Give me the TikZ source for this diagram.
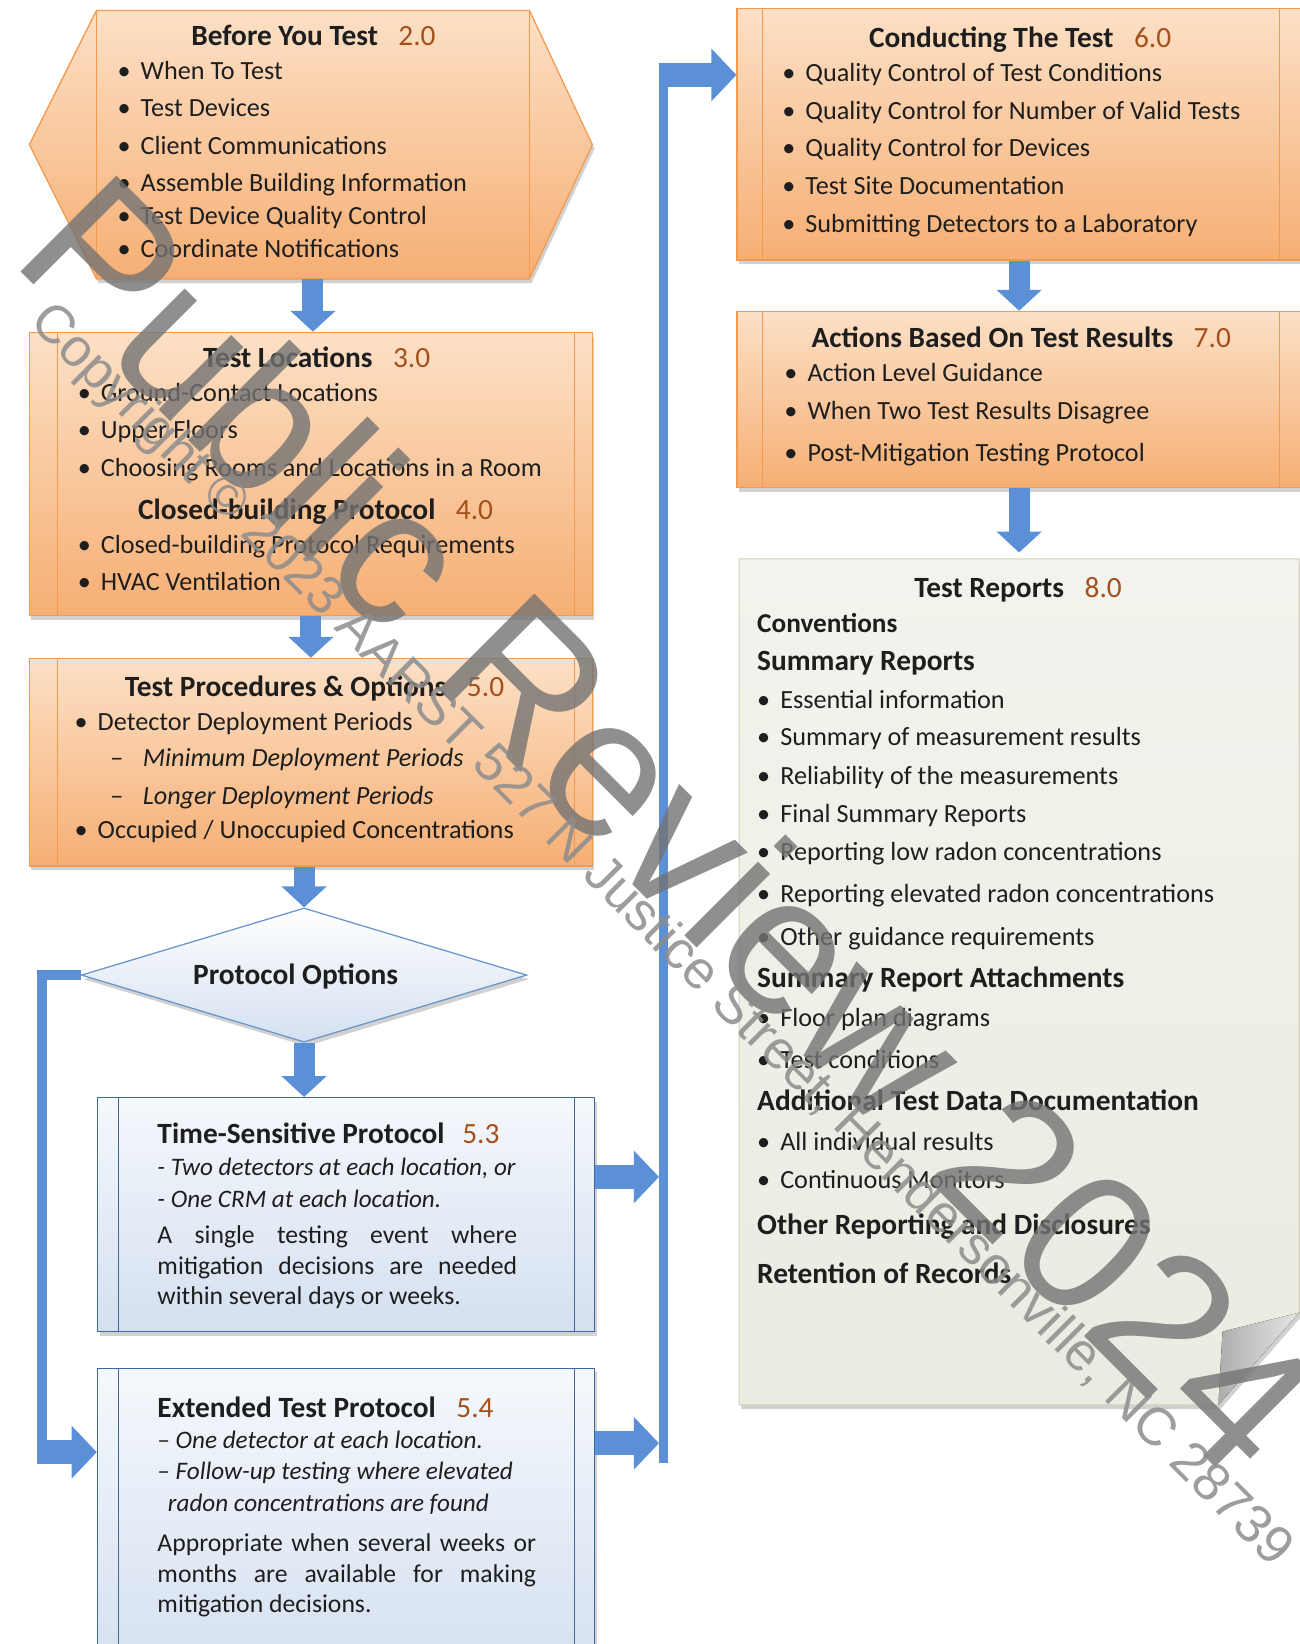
\documentclass[tikz,border=0pt]{standalone}
\usepackage{fontspec}
\setmainfont{Carlito}
\newfontfamily\wmfont{Liberation Sans}
\usetikzlibrary{shapes.geometric,arrows.meta,shadows,calc}

\definecolor{peachlt}{HTML}{FCE0C6}
\definecolor{peachdk}{HTML}{F6AF74}
\definecolor{orangeline}{HTML}{F39A4E}
\definecolor{paletop}{HTML}{F5F8FC}
\definecolor{paleblue}{HTML}{D4E0F0}
\definecolor{boxblue}{HTML}{41679F}
\definecolor{diamline}{HTML}{6A95CB}
\definecolor{blockblue}{HTML}{5B8FD6}
\definecolor{reporttop}{HTML}{F3F2EC}
\definecolor{reportbot}{HTML}{ECEBE2}
\definecolor{reportline}{HTML}{D2D0BC}
\definecolor{secno}{HTML}{A3511C}
\definecolor{txt}{HTML}{1E1E1E}

\newcommand{\secno}[1]{{\mdseries\color{secno}#1}}
\newcommand{\bulmark}{\makebox[22pt][l]{\textbullet}}
\newcommand{\dashmark}{\makebox[31pt][l]{–}}

\tikzset{
  hold/.style={inner sep=0pt, outer sep=0pt},
  softshadow/.style={drop shadow={shadow xshift=2pt, shadow yshift=-4pt, opacity=0.3, fill=black!60}},
  orangebox/.style={draw=orangeline, line width=1.2pt, top color=peachlt, bottom color=peachdk, softshadow},
  bluebox/.style={draw=boxblue, line width=1.4pt, top color=paletop, bottom color=paleblue, softshadow},
  reportbox/.style={draw=reportline, line width=1pt, top color=reporttop, bottom color=reportbot, softshadow},
  sides/.style n args={3}{path picture={
      \draw[#3, line width=1pt] ([xshift=#1]path picture bounding box.north west) -- ([xshift=#1]path picture bounding box.south west);
      \draw[#3, line width=1pt] ([xshift=-#2]path picture bounding box.north east) -- ([xshift=-#2]path picture bounding box.south east);}},
  downarrow/.style={blockblue, line width=20pt, -{Triangle[width=42pt,length=20pt]}},
  sidearrow/.style={blockblue, line width=23pt, -{Triangle[width=49pt,length=24pt]}},
  pipe/.style={blockblue, line width=9pt, line join=miter},
  ttl/.style={inner sep=0pt, text height=19pt, text depth=0pt, font=\fontsize{28}{32}\selectfont\bfseries, text=txt},
  itm/.style={anchor=west, inner sep=0pt, text height=17pt, text depth=0pt, font=\fontsize{25}{29}\selectfont, text=txt},
  itl/.style={itm, font=\fontsize{24}{29}\selectfont\itshape},
  hdr/.style={itm, font=\fontsize{28}{32}\selectfont\bfseries},
  para/.style={anchor=north west, inner sep=0pt, align=justify, font=\fontsize{24.5}{29}\selectfont, text=txt},
  wmbig/.style={rotate=-45, inner sep=0pt, font=\wmfont\fontsize{188}{190}\selectfont, text=black!55, text opacity=0.8},
  wmline/.style={rotate=-45, inner sep=0pt, font=\wmfont\fontsize{51}{55}\selectfont, text=black!45, text opacity=0.85}
}

\begin{document}
\begin{tikzpicture}[x=1pt,y=-1pt]
    \useasboundingbox (0,0) rectangle (1239,1568);
    % The boxes of the left column.
        \node[hold, minimum width=413pt, minimum height=256pt] (before) at (298.5,138) {};
        \draw[orangebox] (before.north west) -- (before.north east) -- ($(before.east)+(60,0)$) -- (before.south east) -- (before.south west) -- ($(before.west)+(-64,0)$) -- cycle;
        \draw[orangeline, line width=1pt] (before.north west) -- (before.south west) (before.north east) -- (before.south east);
        \node[orangebox, sides={27pt}{17pt}{orangeline}, minimum width=537pt, minimum height=270pt] (loc) at (296.5,452) {};
        \node[orangebox, sides={27pt}{17pt}{orangeline}, minimum width=537pt, minimum height=198pt] (proc) at (296.5,727) {};
        \node[diamond, draw=diamline, line width=1.2pt, top color=white, bottom color=paleblue, softshadow, minimum width=425pt, minimum height=128pt, inner sep=0pt] (opt) at (290,930) {};
        \node[bluebox, sides={20pt}{19pt}{boxblue}, minimum width=474pt, minimum height=223pt] (ts) at (330,1158.5) {};
        \node[bluebox, sides={20pt}{19pt}{boxblue}, minimum width=474pt, minimum height=295pt] (ext) at (330,1452.5) {};
    % The boxes of the right column.
        \node[orangebox, sides={24pt}{21pt}{orangeline}, minimum width=538pt, minimum height=240pt] (cond) at (972,128) {};
        \node[orangebox, sides={24pt}{21pt}{orangeline}, minimum width=538pt, minimum height=168pt] (act) at (972,381) {};
        \node[hold, minimum width=534pt, minimum height=807pt] (rep) at (972,936.5) {};
        \draw[reportbox] (rep.north west) -- (rep.north east) -- ($(rep.south east)+(0,-88)$) -- ($(rep.south east)+(-77,0)$) -- (rep.south west) -- cycle;
        % This draws the curled corner.
            \fill[left color=black!32, right color=black!10] ($(rep.south east)+(0,-88)$) -- ($(rep.south east)+(-73,-70)$) -- ($(rep.south east)+(-77,0)$) -- cycle;
    % Below are the arrows.
        \draw[downarrow] (before.south) -- (before.south |- loc.north);
        \draw[downarrow] (loc.south) -- (proc.north);
        \draw[downarrow] (proc.south -| opt.north) -- (opt.north);
        \draw[downarrow] (opt.south) -- (opt.south |- ts.north);
        \draw[downarrow] (cond.south) -- (act.north);
        \draw[downarrow, shorten >=6pt] (act.south) -- (act.south |- rep.north);
        \coordinate (lbend) at (40,1385);
        \draw[pipe] (opt.west) -| (lbend);
        \draw[sidearrow] ([xshift=-4.5pt]lbend) -- (lbend -| ext.west);
        \coordinate (rbot) at (633,1395);
        \coordinate (rtop) at (633,71.5);
        \draw[pipe] (rbot) -- (rtop);
        \draw[sidearrow] ([xshift=-4.5pt]rtop) -- (rtop -| cond.west);
        \coordinate (tsout) at ($(ts.east)+(0,-36)$);
        \draw[sidearrow, shorten >=4.5pt] (tsout) -- (tsout -| rbot);
        \coordinate (extout) at ($(ext.east)+(0,-76)$);
        \draw[sidearrow, shorten >=4.5pt] (extout) -- (extout -| rbot);
    % Below nodes are the labels.
        \node[ttl] (t20) at (299,34) {Before You Test\hspace{0.7em}\secno{2.0}};
        \node[itm] (b1) at (112,67) {\bulmark When To Test};
        \node[itm] (b2) at (112,103) {\bulmark Test Devices};
        \node[itm] (b3) at (112,139) {\bulmark Client Communications};
        \node[itm] (b4) at (112,174) {\bulmark Assemble Building Information};
        \node[itm] (b5) at (112,206) {\bulmark Test Device Quality Control};
        \node[itm] (b6) at (112,237) {\bulmark Coordinate Notifications};

        \node[ttl] (t30) at (302,341) {Test Locations\hspace{0.7em}\secno{3.0}};
        \node[itm] (l1) at (74,374) {\bulmark Ground-Contact Locations};
        \node[itm] (l2) at (74,410) {\bulmark Upper Floors};
        \node[itm] (l3) at (74,446) {\bulmark Choosing Rooms and Locations in a Room};
        \node[ttl] (t40) at (301,486) {Closed-building Protocol\hspace{0.7em}\secno{4.0}};
        \node[itm] (l4) at (74,519) {\bulmark Closed-building Protocol Requirements};
        \node[itm] (l5) at (74,555) {\bulmark HVAC Ventilation};

        \node[ttl] (t50) at (300,655) {Test Procedures \& Options\hspace{0.7em}\secno{5.0}};
        \node[itm] (p1) at (71,688) {\bulmark Detector Deployment Periods};
        \node[itm] (p2) at (105,723) {\dashmark\textit{Minimum Deployment Periods}};
        \node[itm] (p3) at (105,759) {\dashmark\textit{Longer Deployment Periods}};
        \node[itm] (p4) at (71,791) {\bulmark Occupied / Unoccupied Concentrations};

        \node[ttl] (optlabel) at (282,929) {Protocol Options};

        \node[hdr] (t53) at (150,1082) {Time-Sensitive Protocol\hspace{0.6em}\secno{5.3}};
        \node[itl] (s1) at (150,1113) {- Two detectors at each location, or};
        \node[itl] (s2) at (150,1143) {- One CRM at each location.};
        \node[para, text width=343pt] (s3) at (150,1169) {A single testing event where\linebreak mitigation decisions are needed\linebreak within several days or weeks.};

        \node[hdr] (t54) at (150,1343) {Extended Test Protocol\hspace{0.7em}\secno{5.4}};
        \node[itl] (e1) at (150,1373) {– One detector at each location.};
        \node[itl] (e2) at (150,1403) {– Follow-up testing where elevated};
        \node[itl] (e3) at (160,1433) {radon concentrations are found};
        \node[para, text width=361pt] (e4) at (150,1463) {Appropriate when several weeks or\linebreak months are available for making\linebreak mitigation decisions.};

        \node[ttl] (t60) at (973,36) {Conducting The Test\hspace{0.7em}\secno{6.0}};
        \node[itm] (c1) at (746,69) {\bulmark Quality Control of Test Conditions};
        \node[itm] (c2) at (746,105) {\bulmark Quality Control for Number of Valid Tests};
        \node[itm] (c3) at (746,141) {\bulmark Quality Control for Devices};
        \node[itm] (c4) at (746,177) {\bulmark Test Site Documentation};
        \node[itm] (c5) at (746,213) {\bulmark Submitting Detectors to a Laboratory};

        \node[ttl] (t70) at (974,322) {Actions Based On Test Results\hspace{0.7em}\secno{7.0}};
        \node[itm] (a1) at (748,355) {\bulmark Action Level Guidance};
        \node[itm] (a2) at (748,392) {\bulmark When Two Test Results Disagree};
        \node[itm] (a3) at (748,432) {\bulmark Post-Mitigation Testing Protocol};

        \node[ttl] (t80) at (971,560) {Test Reports\hspace{0.7em}\secno{8.0}};
        \node[hdr, font=\fontsize{26}{30}\selectfont\bfseries] (r0) at (722,595) {Conventions};
        \node[hdr] (r1) at (722,631) {Summary Reports};
        \node[itm] (r11) at (722,667) {\bulmark Essential information};
        \node[itm] (r12) at (722,703) {\bulmark Summary of measurement results};
        \node[itm] (r13) at (722,740) {\bulmark Reliability of the measurements};
        \node[itm] (r14) at (722,776) {\bulmark Final Summary Reports};
        \node[itm] (r15) at (722,812) {\bulmark Reporting low radon concentrations};
        \node[itm] (r16) at (722,852) {\bulmark Reporting elevated radon concentrations};
        \node[itm] (r17) at (722,893) {\bulmark Other guidance requirements};
        \node[hdr] (r2) at (722,933) {Summary Report Attachments};
        \node[itm] (r21) at (722,971) {\bulmark Floor plan diagrams};
        \node[itm] (r22) at (722,1011) {\bulmark Test conditions};
        \node[hdr] (r3) at (722,1051) {Additional Test Data Documentation};
        \node[itm] (r31) at (722,1089) {\bulmark All individual results};
        \node[itm] (r32) at (722,1125) {\bulmark Continuous Monitors};
        \node[hdr] (r4) at (722,1169) {Other Reporting and Disclosures};
        \node[hdr] (r5) at (722,1216) {Retention of Records};
    % The watermark goes on top.
        \node[wmbig] (wm1) at (640,785) {Public Review 2024};
        \node[wmline] (wm2) at (630,893) {Copyright © 2023 AARST 527 N Justice Street, Hendersonville, NC 28739};
\end{tikzpicture}
\end{document}
